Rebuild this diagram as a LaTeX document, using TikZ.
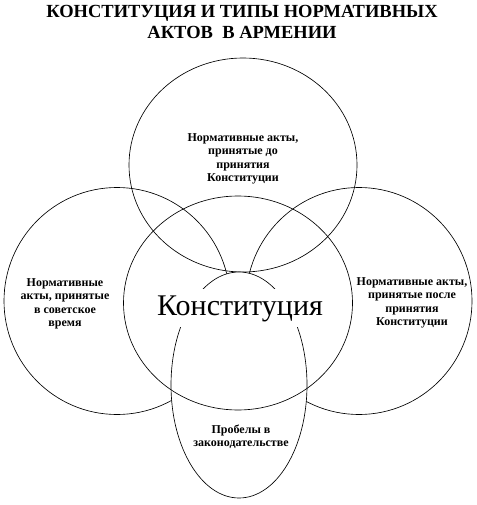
\documentclass[tikz,border=0pt]{standalone}
\usepackage{fontspec}
\setmainfont{Liberation Serif}
\usepackage{tikz}
\usetikzlibrary{shapes.geometric}

\begin{document}
\begin{tikzpicture}[
  x=1pt, y=-1pt,
  line width=0.65pt,
  ring/.style={ellipse, draw=black, inner sep=0pt},
  lbl/.style={align=center, font=\fontsize{12}{13.4}\selectfont\bfseries, inner sep=1pt},
]
  \useasboundingbox (0,0) rectangle (476,505);
  % Title
  \node[anchor=north, inner sep=0pt, align=center, font=\fontsize{18.5}{21}\selectfont\bfseries] (title) at (242,5)
    {КОНСТИТУЦИЯ И ТИПЫ НОРМАТИВНЫХ\\АКТОВ \ В АРМЕНИИ};
  % Outer rings
  \node[ring, minimum width=226, minimum height=227] (soviet) at (117,301) {};
  \node[ring, minimum width=226, minimum height=227] (after) at (359,301) {};
  \node[ring, minimum width=228, minimum height=214] (before) at (243,165) {};
  % Gaps ellipse hides what lies under it
  \node[ring, fill=white, minimum width=136, minimum height=226] (gaps) at (239,385) {};
  % Constitution in the middle
  \node[ring, minimum width=229, minimum height=214] (const) at (238,303) {};
  % Labels
  \node[lbl] (beforeTxt) at (243,159) {Нормативные акты,\\принятые до\\принятия\\Конституции};
  \node[lbl] (sovietTxt) at (65,304) {Нормативные\\акты, принятые\\в советское\\время};
  \node[lbl] (afterTxt) at (412,303) {Нормативные акты,\\принятые после\\принятия\\Конституции};
  \node[lbl] (gapsTxt) at (241,437) {Пробелы в\\законодательстве};
  \node[anchor=base, fill=white, inner xsep=4pt, inner ysep=6pt, font=\fontsize{30}{32}\selectfont] (constTxt) at (240,315) {Конституция};
\end{tikzpicture}
\end{document}
